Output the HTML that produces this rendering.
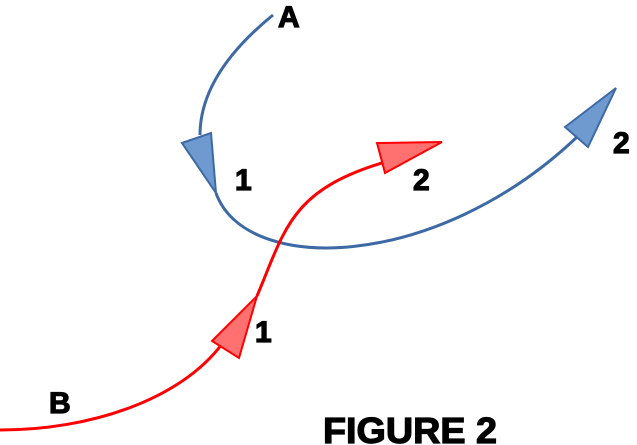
<!DOCTYPE html>
<html><head><style>
html,body{margin:0;padding:0;background:#fff;width:637px;height:445px;overflow:hidden}
svg{display:block}
text{font-family:"Liberation Sans",Arial,sans-serif;font-weight:bold;fill:#000;stroke:#000;stroke-width:1.2}
</style></head><body>
<svg width="637" height="445" viewBox="0 0 637 445" xmlns="http://www.w3.org/2000/svg">
<g fill="none" stroke-width="3">
<path d="M273,15 C230,50 200,90 200,135" stroke="#3d6aa5"/>
<path d="M216,193 C245,275 435,272 577,137" stroke="#3d6aa5"/>
<path d="M0,430 C90,430 180,400 222,344" stroke="#f00"/>
<path d="M257,296 C285,230 290,190 385,162" stroke="#f00"/>
</g>
<polygon points="182,143 211,133 216,193" fill="#6e9acf" stroke="#3d6aa5" stroke-width="2"/>
<polygon points="565,127 616,88 588,147" fill="#6e9acf" stroke="#3d6aa5" stroke-width="2"/>
<polygon points="212,341 257,296 239,358" fill="#ff7070" stroke="#f00" stroke-width="2"/>
<polygon points="377,143 442,142 385,173" fill="#ff7070" stroke="#f00" stroke-width="2"/>
<text x="278" y="27" font-size="30">A</text>
<text x="235" y="190" font-size="30">1</text>
<text x="413" y="190" font-size="30">2</text>
<text x="613" y="153" font-size="30">2</text>
<text x="255" y="342" font-size="30">1</text>
<text x="49" y="413" font-size="30">B</text>
<text x="323" y="443" font-size="36" textLength="174" lengthAdjust="spacingAndGlyphs">FIGURE 2</text>
</svg>
</body></html>
